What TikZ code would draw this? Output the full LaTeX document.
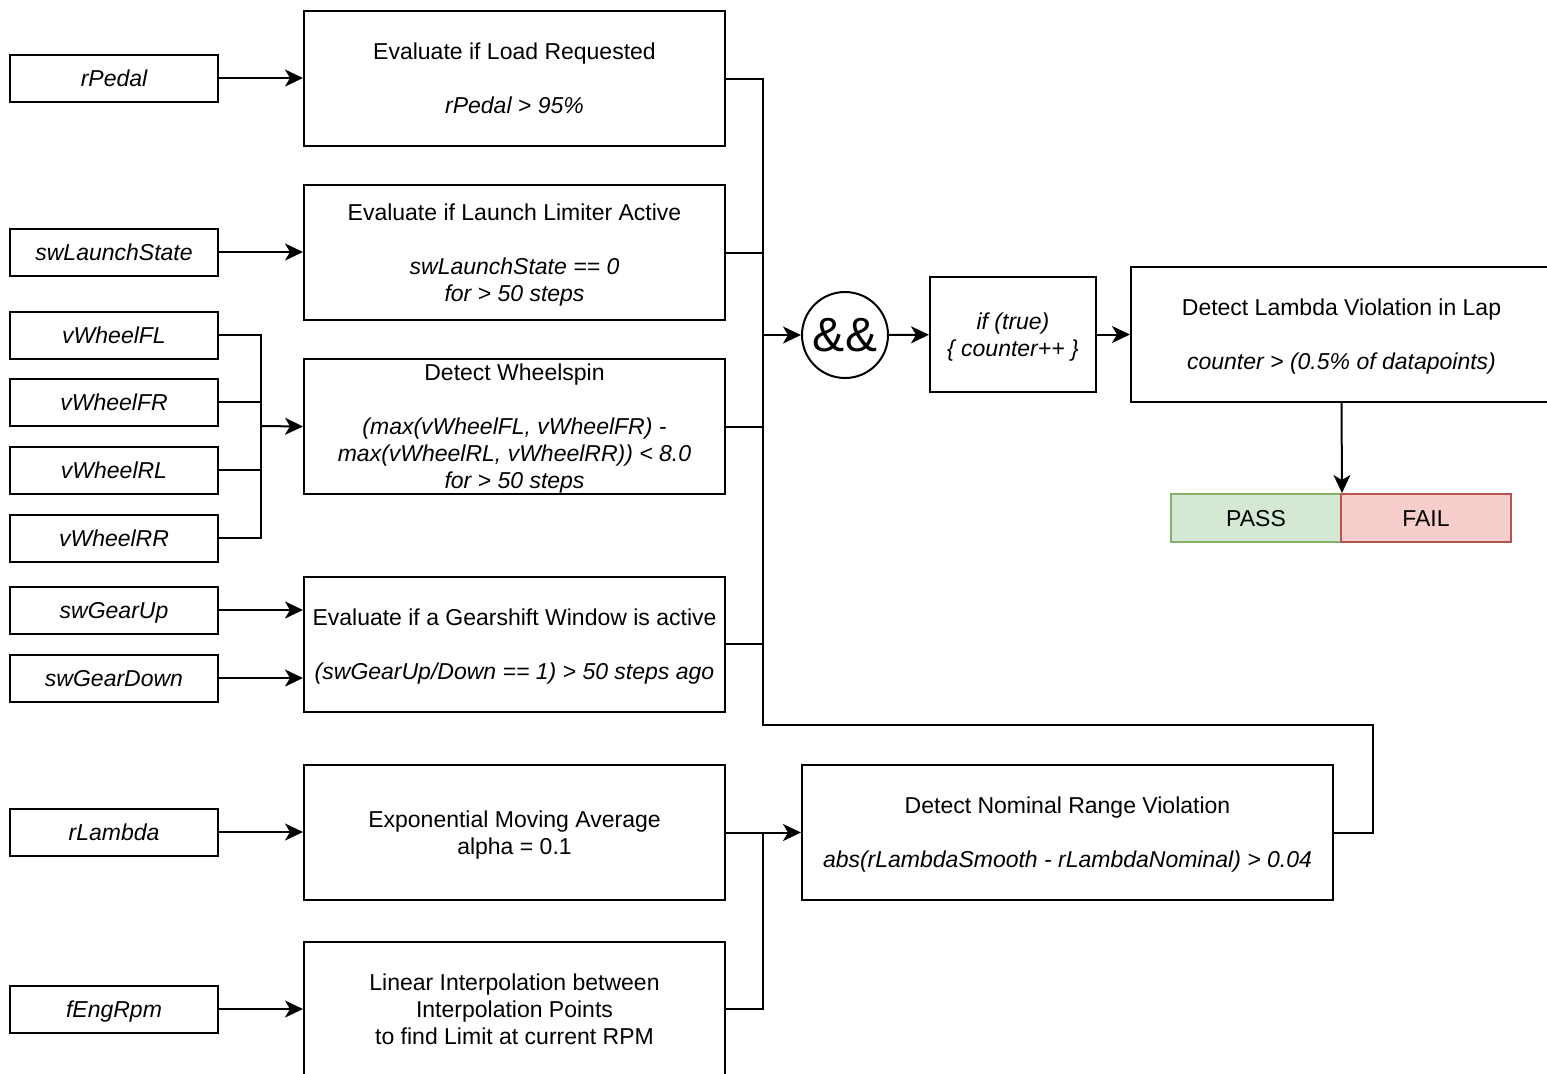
\documentclass[tikz,border=0pt]{standalone}
\usepackage{fontspec}
\setmainfont{Liberation Sans}
\usetikzlibrary{arrows.meta,positioning}
\definecolor{passfill}{HTML}{D5E8D4}
\definecolor{passline}{HTML}{82B366}
\definecolor{failfill}{HTML}{F8CECC}
\definecolor{failline}{HTML}{B85450}
\newcommand{\lstrut}{\rule[-2.6pt]{0pt}{13.4pt}}

\begin{document}
\begin{tikzpicture}[x=0.5pt,y=-0.5pt,line width=1pt,
  font=\fontsize{11.5}{13.5}\selectfont,
  input/.style={draw,minimum width=104pt,minimum height=23.5pt,inner sep=0pt,
    text height=10.8pt,text depth=2.6pt,font=\fontsize{11.5}{13.5}\selectfont\itshape},
  block/.style={draw,minimum width=210.5pt,minimum height=67.5pt,inner sep=0pt,align=center},
  verdict/.style={minimum width=85pt,minimum height=24pt,inner sep=0pt,text height=10.8pt,text depth=2.6pt},
  arr/.style={-{Stealth[length=9pt,width=8.5pt,inset=2.5pt]}}]
\useasboundingbox (0,0) rectangle (1547,1073);
\clip (0,0) rectangle (1547,1073);
% inputs
\node[input] (pedal) at (114,78) {rPedal};
\node[input] (launchin) at (114,252) {swLaunchState};
\node[input] (wfl) at (114,335) {vWheelFL};
\node[input] (wfr) at (114,402) {vWheelFR};
\node[input] (wrl) at (114,470) {vWheelRL};
\node[input] (wrr) at (114,538) {vWheelRR};
\node[input] (gup) at (114,610) {swGearUp};
\node[input] (gdown) at (114,678) {swGearDown};
\node[input] (lambdain) at (114,832) {rLambda};
\node[input] (rpm) at (114,1009) {fEngRpm};
% processing blocks
\node[block] (load) at (514.5,78.5) {\lstrut Evaluate if Load Requested\\[13.5pt]\lstrut\textit{rPedal > 95\%}};
\node[block] (launch) at (514.5,252.5) {\lstrut Evaluate if Launch Limiter Active\\[13.5pt]\textit{swLaunchState == 0}\\\lstrut\textit{for > 50 steps}};
\node[block] (spin) at (514.5,426.5) {\lstrut Detect Wheelspin\\[13.5pt]\textit{(max(vWheelFL, vWheelFR) -}\\\textit{max(vWheelRL, vWheelRR)) < 8.0}\\\lstrut\textit{for > 50 steps}};
\node[block] (gear) at (514.5,644) {\lstrut Evaluate if a Gearshift Window is active\\[13.5pt]\lstrut\textit{(swGearUp/Down == 1) > 50 steps ago}};
\node[block] (ema) at (514.5,832.5) {\lstrut Exponential Moving Average\\\lstrut alpha = 0.1};
\node[block] (interp) at (514.5,1009) {\lstrut Linear Interpolation between\\Interpolation Points\\\lstrut to find Limit at current RPM};
\node[block,minimum width=265.5pt] (nominal) at (1067.5,832.5) {\lstrut Detect Nominal Range Violation\\[13.5pt]\lstrut\textit{abs(rLambdaSmooth - rLambdaNominal) > 0.04}};
\node[draw,circle,minimum size=43pt,inner sep=0pt,font=\fontsize{24}{24}\selectfont] (and) at (845,335) {\&\&};
\node[block,minimum width=83pt,minimum height=57.5pt] (iftrue) at (1013,334.5) {\lstrut\textit{if (true)}\\\lstrut\textit{\{ counter++ \}}};
\node[block] (lap) at (1341.5,334.5) {\lstrut Detect Lambda Violation in Lap\\[13.5pt]\lstrut\textit{counter > (0.5\% of datapoints)}};
\node[verdict,draw=passline,fill=passfill] (pass) at (1256,518) {PASS};
\node[verdict,draw=failline,fill=failfill] (fail) at (1426,518) {FAIL};
% joins
\coordinate (andin) at (763,335);
\coordinate (wheeljoin) at (261,426);
\coordinate (nomin) at (763,832);
% connectors
\draw[arr] (pedal.east) -- (pedal.east -| load.west);
\draw[arr] (launchin.east) -- (launchin.east -| launch.west);
\foreach \w in {wfl,wfr,wrl,wrr}
  \draw (\w.east) -| (wheeljoin);
\draw[arr] (wheeljoin) -- (spin.west);
\draw[arr] (gup.east) -- (gup.east -| gear.west);
\draw[arr] (gdown.east) -- (gdown.east -| gear.west);
\draw[arr] (lambdain.east) -- (lambdain.east -| ema.west);
\draw[arr] (rpm.east) -- (rpm.east -| interp.west);
\foreach \b in {load,launch,spin,gear}
  \draw (\b.east) -| (andin);
\draw (nominal.east) -- ++(39,0) |- (763,725) -- (andin);
\draw[arr] (andin) -- (and);
\draw[arr] (and) -- (iftrue);
\draw[arr] (iftrue) -- (iftrue -| lap.west);
\draw[arr] (lap.south) -- (pass.north east);
\draw[arr] (ema.east) -- (ema.east -| nominal.west);
\draw (interp.east) -| (nomin);
\end{tikzpicture}
\end{document}
